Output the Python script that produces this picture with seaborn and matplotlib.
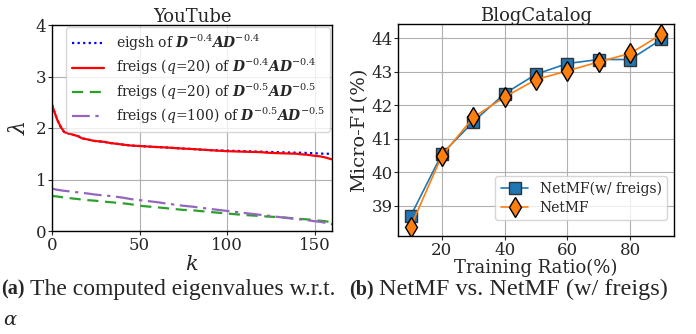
import matplotlib
matplotlib.use("Agg")
import matplotlib.pyplot as plt
import seaborn as sns
import numpy as np
import pandas as pd

# ---- Data: YouTube eigenvalues ----
k_points = [0, 1, 3, 5, 7, 10, 12, 15, 17, 20, 24, 30, 33, 40, 45, 50, 60, 66, 75, 81, 90, 100,
            110, 120, 123, 130, 140, 142, 146, 150, 153, 156, 160]
eigsh_04 = [2.45, 2.35, 2.16, 2.02, 1.92, 1.89, 1.87, 1.84, 1.80, 1.78, 1.75, 1.73, 1.71, 1.68, 1.66,
            1.65, 1.63, 1.62, 1.60, 1.59, 1.57, 1.56, 1.55, 1.54, 1.535, 1.53, 1.52, 1.52, 1.515, 1.51,
            1.505, 1.50, 1.50]
freigs20_04 = [2.45, 2.35, 2.16, 2.02, 1.92, 1.89, 1.87, 1.84, 1.80, 1.78, 1.75, 1.73, 1.71, 1.68, 1.66,
               1.65, 1.63, 1.62, 1.60, 1.59, 1.57, 1.55, 1.54, 1.53, 1.52, 1.51, 1.50, 1.49, 1.48, 1.46,
               1.45, 1.43, 1.39]
freigs20_05 = [0.68, 0.677, 0.67, 0.66, 0.65, 0.64, 0.63, 0.62, 0.61, 0.60, 0.59, 0.57, 0.56, 0.54, 0.52,
               0.49, 0.46, 0.44, 0.41, 0.40, 0.37, 0.34, 0.31, 0.29, 0.28, 0.27, 0.24, 0.235, 0.225, 0.21,
               0.20, 0.19, 0.17]
freigs100_05 = [0.82, 0.815, 0.80, 0.79, 0.78, 0.77, 0.76, 0.75, 0.74, 0.73, 0.71, 0.69, 0.68, 0.65, 0.62,
                0.60, 0.56, 0.53, 0.49, 0.47, 0.43, 0.39, 0.35, 0.31, 0.30, 0.27, 0.23, 0.225, 0.21, 0.19,
                0.18, 0.16, 0.13]

# ---- Data: BlogCatalog ----
ratios = [10, 20, 30, 40, 50, 60, 70, 80, 90]
netmf_freigs = [38.69, 40.55, 41.51, 42.35, 42.93, 43.25, 43.37, 43.37, 43.97]
netmf = [38.37, 40.50, 41.64, 42.25, 42.77, 43.03, 43.30, 43.55, 44.12]

sns.set_style("whitegrid")
plt.rcParams["font.family"] = ["DejaVu Serif"]
plt.rcParams["mathtext.fontset"] = "dejavuserif"
plt.rcParams["axes.edgecolor"] = "black"
plt.rcParams["axes.linewidth"] = 1.0
plt.rcParams["grid.color"] = "#b0b0b0"
plt.rcParams["grid.linewidth"] = 0.8

fig = plt.figure(figsize=(6.96, 3.34), dpi=100)
ax1 = fig.add_axes([52/696, 1 - 231/334, 280/696, 206/334])
ax2 = fig.add_axes([398/696, 1 - 236/334, 276/696, 212/334])

df1 = pd.DataFrame({"k": k_points, "a": eigsh_04, "b": freigs20_04, "c": freigs20_05, "d": freigs100_05})
sns.lineplot(data=df1, x="k", y="a", ax=ax1, color="blue", linestyle=(0, (1, 1.5)), lw=1.6,
             label=r"eigsh of $\mathbfit{D}^{-0.4}\mathbfit{A}\mathbfit{D}^{-0.4}$")
sns.lineplot(data=df1, x="k", y="b", ax=ax1, color="red", lw=1.6,
             label=r"freigs ($q$=20) of $\mathbfit{D}^{-0.4}\mathbfit{A}\mathbfit{D}^{-0.4}$")
sns.lineplot(data=df1, x="k", y="c", ax=ax1, color="#2ca02c", linestyle=(0, (5, 3)), lw=1.6,
             label=r"freigs ($q$=20) of $\mathbfit{D}^{-0.5}\mathbfit{A}\mathbfit{D}^{-0.5}$")
sns.lineplot(data=df1, x="k", y="d", ax=ax1, color="#9467bd", linestyle=(0, (8, 2.5, 1.5, 2.5)), lw=1.6,
             label=r"freigs ($q$=100) of $\mathbfit{D}^{-0.5}\mathbfit{A}\mathbfit{D}^{-0.5}$")
ax1.set_xlim(0, 160)
ax1.set_ylim(0, 4)
ax1.set_xticks([0, 50, 100, 150])
ax1.set_yticks([0, 1, 2, 3, 4])
ax1.set_title("YouTube", fontsize=13, pad=2)
ax1.set_xlabel(r"$k$", fontsize=15, labelpad=1)
ax1.set_ylabel(r"$\lambda$", fontsize=16, labelpad=4)
ax1.tick_params(labelsize=12, length=3, pad=1, left=True, bottom=True)
ax1.legend(loc="upper right", bbox_to_anchor=(0.993, 0.99), borderaxespad=0, fontsize=10,
           frameon=True, framealpha=0.8, edgecolor="#cccccc",
           handlelength=2.3, borderpad=0.4, labelspacing=0.3, handletextpad=0.85)

df2 = pd.DataFrame({"ratio": ratios, "w": netmf_freigs, "n": netmf})
sns.lineplot(data=df2, x="ratio", y="w", ax=ax2, color="#1f77b4", marker="s", markersize=9,
             markeredgecolor="#333333", markeredgewidth=1.0, lw=1.2, label="NetMF(w/ freigs)")
sns.lineplot(data=df2, x="ratio", y="n", ax=ax2, color="#ff7f0e", marker="d", markersize=10,
             markeredgecolor="black", markeredgewidth=1.0, lw=1.2, label="NetMF")
ax2.set_xlim(6, 94)
ax2.set_ylim(38.1, 44.43)
ax2.set_xticks([20, 40, 60, 80])
ax2.set_yticks([39, 40, 41, 42, 43, 44])
ax2.set_title("BlogCatalog", fontsize=13, pad=2)
ax2.set_xlabel("Training Ratio(%)", fontsize=13, labelpad=0)
ax2.set_ylabel("Micro-F1(%)", fontsize=14, labelpad=2)
ax2.tick_params(labelsize=12, length=3, pad=1, left=True, bottom=True)
ax2.legend(loc="lower right", bbox_to_anchor=(0.975, 0.075), borderaxespad=0, fontsize=10,
           frameon=True, framealpha=0.8, edgecolor="#cccccc", handlelength=2.0, borderpad=0.4,
           labelspacing=0.35)

for ax in (ax1, ax2):
    for lab in ax.get_xticklabels() + ax.get_yticklabels():
        lab.set_fontfamily("DejaVu Serif")

cap_font = ["Liberation Serif", "DejaVu Serif"]
fig.text(1/696, 1 - 289/334, "(a)", fontsize=14.5, fontweight="bold", family=cap_font, va="center")
fig.text(30/696, 1 - 289/334, "The computed eigenvalues w.r.t.", fontsize=17, family=cap_font, va="center")
fig.text(3/696, 1 - 320/334, r"$\alpha$", fontsize=14, va="center")
fig.text(349/696, 1 - 289/334, "(b)", fontsize=14.5, fontweight="bold", family=cap_font, va="center")
fig.text(379/696, 1 - 289/334, "NetMF vs. NetMF (w/ freigs)", fontsize=17.5, family=cap_font, va="center")

fig.savefig("out.png", dpi=100)
